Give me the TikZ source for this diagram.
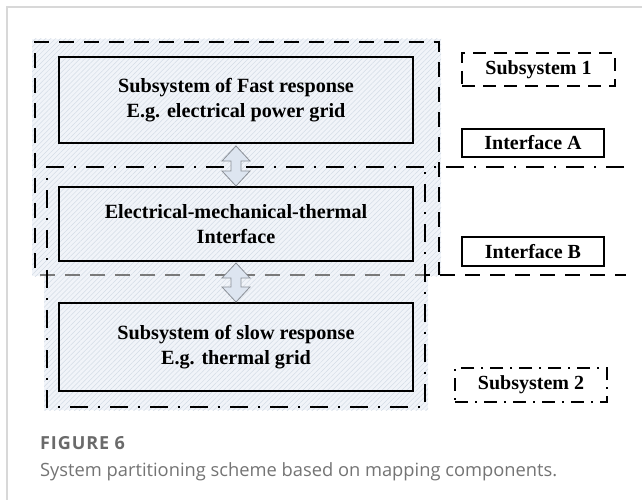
\documentclass[tikz,border=0pt]{standalone}
\usepackage{fontspec}
\setmainfont{Liberation Serif}
\newfontfamily\capfont{Open Sans}
\newfontfamily\capfontsp[LetterSpace=5]{Open Sans}
\usetikzlibrary{patterns.meta,calc}
\definecolor{hatchbg}{HTML}{F1F4F9}
\definecolor{hatchln}{HTML}{D4DCE6}
\definecolor{arrfill}{HTML}{DDE5F0}
\definecolor{arrline}{HTML}{8A8F96}
\definecolor{cardline}{HTML}{D8D8D8}
\definecolor{capdark}{HTML}{6A6A6A}
\definecolor{caplight}{HTML}{747474}
\definecolor{fadedash}{HTML}{7A7A7A}
\newcommand\dblarrow[2]{%
  \path[blockarrow] let \p1=(#1), \p2=(#2) in
    (\x1,\y1) -- ++(14,15) -- ++(-9,0) -- (\x1+5pt,\y2+15pt) -- ++(9,0) -- (\x1,\y2)
    -- ++(-14,-15) -- ++(9,0) -- (\x1-5pt,\y1-15pt) -- ++(-9,0) -- cycle;}
\begin{document}
\begin{tikzpicture}[x=1pt,y=-1pt,
  hatch/.style={fill=hatchbg, postaction={pattern={Lines[angle=45,distance=3.5pt,line width=0.5pt]}, pattern color=hatchln}},
  mainbox/.style={draw=black, line width=2pt, minimum width=354pt, align=center, font=\bfseries\fontsize{20.2}{25}\selectfont, inner sep=0pt},
  lblbox/.style={draw=black, line width=1.6pt, align=center, font=\bfseries\fontsize{20}{24}\selectfont, inner sep=0pt},
  dashline/.style={line width=2.2pt, dash pattern=on 15pt off 10pt},
  dotdashline/.style={line width=2.2pt, dash pattern=on 18pt off 10pt on 2pt off 10pt},
  lbldash/.style={line width=2.2pt, dash pattern=on 13pt off 8pt},
  lbldotdash/.style={line width=2.2pt, dash pattern=on 13pt off 7pt on 2pt off 7pt},
  blockarrow/.style={fill=arrfill, draw=arrline, line width=0.8pt, line join=miter},
  captext/.style={anchor=base west, inner sep=0pt}]
\useasboundingbox (0,0) rectangle (642,500);
\fill[white] (0,0) rectangle (642,500);
\draw[cardline, line width=1.5pt] (7,500) -- (7,7) -- (642,7);
% hatched regions
\path[hatch] (32,39) rectangle (441,276);
\path[hatch] (44,165) rectangle (428,410);
% Subsystem 1 boundary and Interface B line
\draw[dashline] (35,268) -- (35,42) -- (439,42) -- (439,275);
\draw[dashline, fadedash] (40,275) -- (425,275);
\draw[dashline, dash phase=10pt] (425,275) -- (626,275);
% Subsystem 2 boundary and Interface A line
\draw[dotdashline] (624,167) -- (47,167) -- (47,407) -- (425,407) -- (425,167);
% main boxes
\node[mainbox, minimum height=86pt] (fast) at (236,100) {Subsystem of Fast response\\E.g. electrical power grid};
\node[mainbox, minimum height=74pt] (emt) at (236,224) {Electrical-mechanical-thermal\\Interface};
\node[mainbox, minimum height=88pt] (slow) at (236,347) {Subsystem of slow response\\E.g. thermal grid};
% legend boxes
\node[lblbox, lbldash, minimum width=153pt, minimum height=33pt] (sub1) at (538.5,69.5) {Subsystem 1};
\node[lblbox, minimum width=142pt, minimum height=28pt] (ifa) at (533,143) {Interface A};
\node[lblbox, minimum width=142pt, minimum height=29pt] (ifb) at (533,251.5) {Interface B};
\node[lblbox, lbldotdash, minimum width=152pt, minimum height=34pt] (sub2) at (531,385) {Subsystem 2};
% arrows
\dblarrow{$(fast.south)+(0,2)$}{emt.north}
\dblarrow{$(emt.south)+(0,1)$}{slow.north}
% caption
\node[captext, text=capdark, font=\capfontsp\bfseries\fontsize{18}{20}\selectfont] (figlbl) at (40,449) {FIGURE 6};
\node[captext, text=caplight, font=\capfont\fontsize{18.3}{20}\selectfont] (figcap) at (40,476) {System partitioning scheme based on mapping components.};
\end{tikzpicture}
\end{document}
